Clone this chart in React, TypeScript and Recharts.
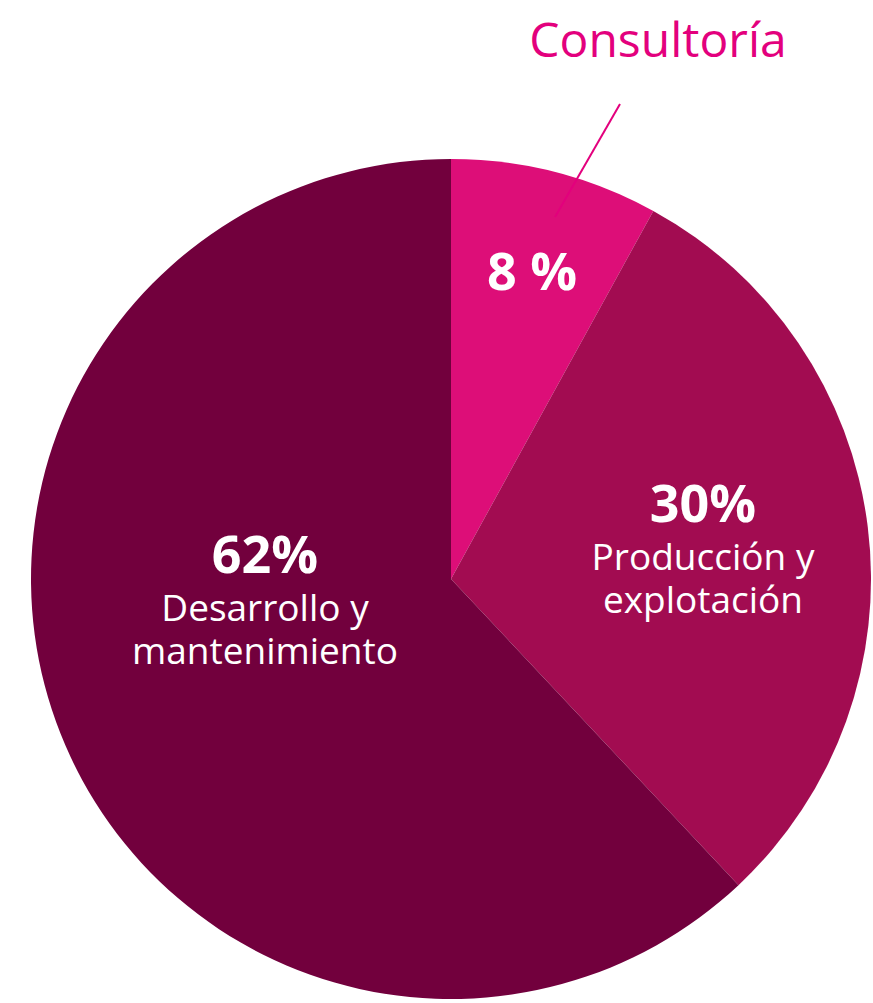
import { PieChart, Pie, Cell } from "recharts";

const NAMES = ["Consultoría", "Producción y explotación", "Desarrollo y mantenimiento"];
const VALUES = [8, 30, 62];
const PCT_LABELS = ["8 %", "30%", "62%"];
const SUB_LINES = [[], ["Producción y", "explotación"], ["Desarrollo y", "mantenimiento"]];
const COLORS = ["#dd0e78", "#a20c51", "#72003d"];

const data = NAMES.map((name, i) => ({ name, value: VALUES[i] }));

const CX = 451;
const CY = 579;
const R = 420;
const FONT = "'Open Sans', sans-serif";

// text anchor (centre x, baseline of the percentage) relative to the pie centre
const LABEL_OFFSETS = [
  [81, -289],
  [252, -57],
  [-186, -6],
];

/* eslint-disable @typescript-eslint/no-explicit-any */
function renderLabel(props: any) {
  const { index } = props;
  const cx = props.cx ?? CX;
  const cy = props.cy ?? CY;
  const [dx, dy] = LABEL_OFFSETS[index];
  const x = cx + dx;
  const y = cy + dy;
  return (
    <g key={`lbl-${index}`}>
      <text x={x} y={y} textAnchor="middle" fill="#fff" fontFamily={FONT} fontWeight={700} fontSize={52}>
        {PCT_LABELS[index]}
      </text>
      {SUB_LINES[index].map((line, j) => (
        <text key={j} x={x} y={y + 48 + j * 43} textAnchor="middle" fill="#fff" fontFamily={FONT} fontSize={37}>
          {line}
        </text>
      ))}
      {index === 0 && (
        <>
          <line x1={cx + 104} y1={cy - 362} x2={cx + 169} y2={cy - 475} stroke="#e3007d" strokeWidth={2} />
          <text x={cx + 207} y={cy - 522} textAnchor="middle" fill="#e3007d" fontFamily={FONT} fontSize={48}>
            {NAMES[0]}
          </text>
        </>
      )}
    </g>
  );
}
/* eslint-enable @typescript-eslint/no-explicit-any */

export default function App() {
  return (
    <div style={{ position: "absolute", left: 0, top: 0, width: 873, height: 1003, background: "#fff" }}>
      <PieChart width={873} height={1003} margin={{ top: 0, right: 0, bottom: 0, left: 0 }}>
        <Pie
          data={data}
          dataKey="value"
          nameKey="name"
          cx={CX}
          cy={CY}
          outerRadius={R}
          startAngle={90}
          endAngle={-270}
          stroke="none"
          label={renderLabel}
          labelLine={false}
          isAnimationActive={false}
        >
          {data.map((d, i) => (
            <Cell key={d.name} fill={COLORS[i]} />
          ))}
        </Pie>
      </PieChart>
    </div>
  );
}
